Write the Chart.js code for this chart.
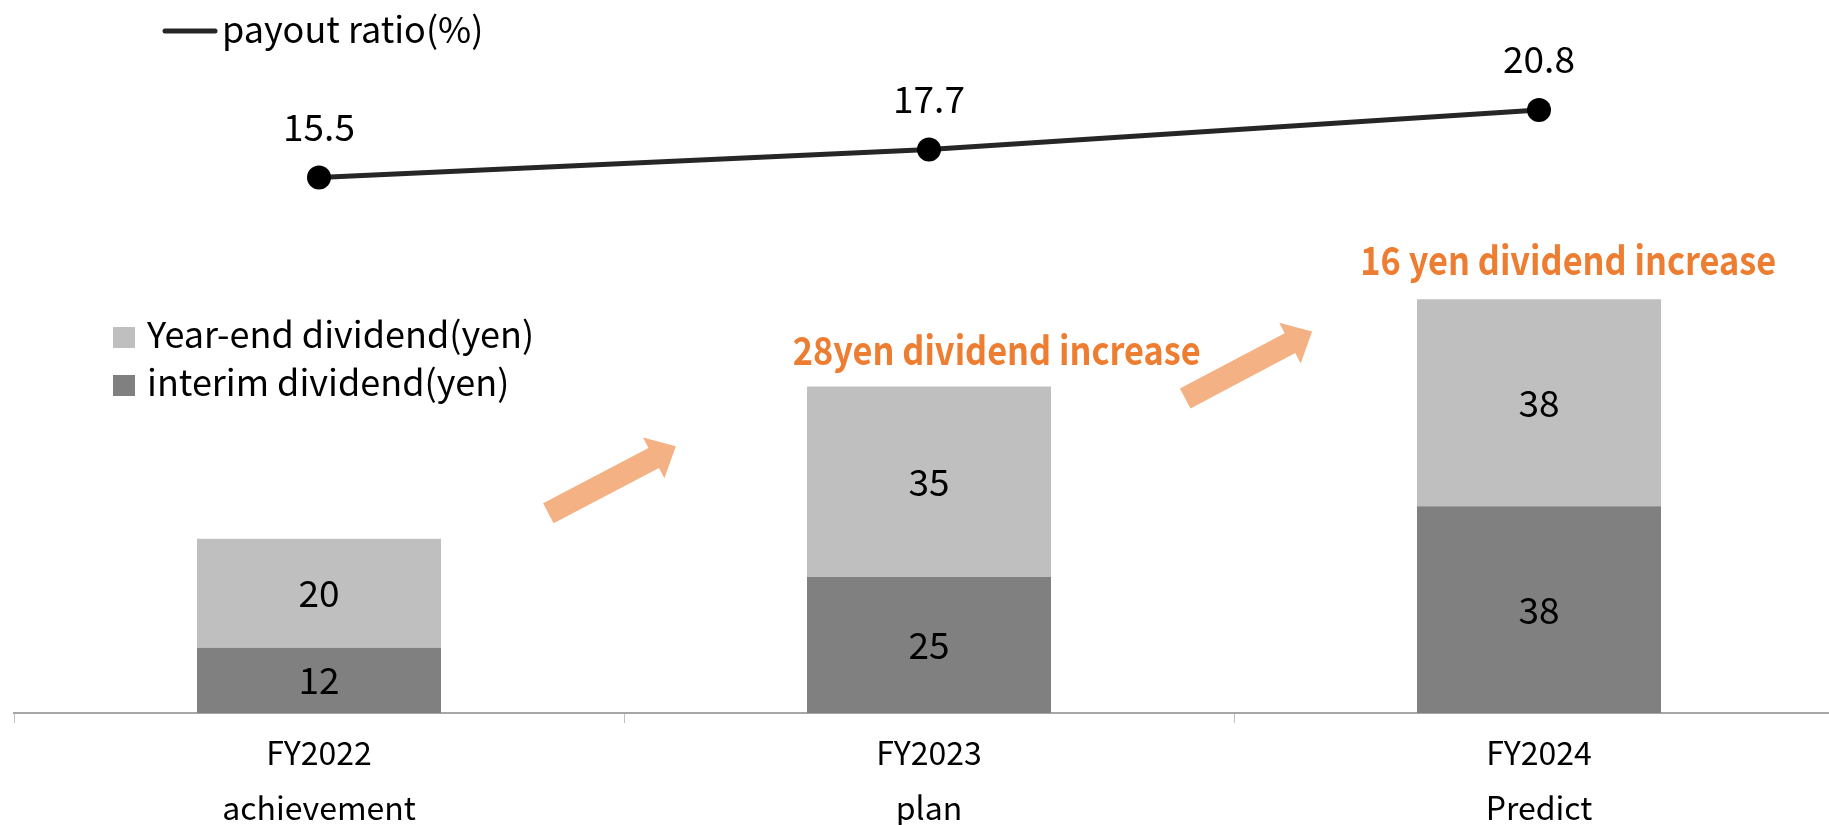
<!DOCTYPE html>
<html>
<head>
<meta charset="utf-8">
<script src="https://cdn.jsdelivr.net/npm/chart.js@4.4.1/dist/chart.umd.min.js"></script>
<style>
  html, body { margin: 0; padding: 0; background: #fff; overflow: hidden; }
  #wrap { width: 1850px; height: 825px; }
</style>
</head>
<body>
<div id="wrap"><canvas id="c" width="1850" height="825"></canvas></div>
<script>
// ---- data ----
const categories = [['FY2022', 'achievement'], ['FY2023', 'plan'], ['FY2024', 'Predict']];
const interimDividend = [12, 25, 38];
const yearEndDividend = [20, 35, 38];
const payoutRatio = [15.5, 17.7, 20.8];
const seriesNames = ['interim dividend(yen)', 'Year-end dividend(yen)', 'payout ratio(%)'];
const increaseNotes = ['28yen dividend increase', '16 yen dividend increase'];

// ---- look ----
const FONT = "'Noto Sans CJK JP', 'Noto Sans', sans-serif";
const COL_INTERIM = '#808080';
const COL_YEAREND = '#BFBFBF';
const COL_LINE = '#262626';
const COL_NOTE = '#ED7D31';
const COL_ARROW = '#F4B183';

// annotation anchors in (category index, dividend value) space
const notePlaces = [[1.111, 64], [2.048, 80.4]];
const arrowPlaces = [
  { from: [0.376, 36.7], to: [0.585, 49.0] },
  { from: [1.420, 57.8], to: [1.628, 70.1] }
];

function drawArrow(ctx, x0, y0, x1, y1) {
  const dx = x1 - x0, dy = y1 - y0;
  const len = Math.hypot(dx, dy);
  const ux = dx / len, uy = dy / len;
  const nx = -uy, ny = ux;
  const hw = 11.3, HW = 23, HL = 25;
  const bx = x1 - ux * HL, by = y1 - uy * HL;
  ctx.beginPath();
  ctx.moveTo(x0 + nx * hw, y0 + ny * hw);
  ctx.lineTo(bx + nx * hw, by + ny * hw);
  ctx.lineTo(bx + nx * HW, by + ny * HW);
  ctx.lineTo(x1, y1);
  ctx.lineTo(bx - nx * HW, by - ny * HW);
  ctx.lineTo(bx - nx * hw, by - ny * hw);
  ctx.lineTo(x0 - nx * hw, y0 - ny * hw);
  ctx.closePath();
  ctx.fill();
}

// narrow text drawn at (cx, cy) with a horizontal squeeze
function condensedText(ctx, text, cx, cy, squeeze) {
  ctx.save();
  ctx.translate(cx, cy);
  ctx.scale(squeeze, 1);
  ctx.fillText(text, 0, 0);
  ctx.restore();
}

const decor = {
  id: 'decor',
  afterDatasetsDraw(chart) {
    const { ctx } = chart;
    const x = chart.scales.x, y = chart.scales.y;
    ctx.save();

    // value labels
    ctx.fillStyle = '#000';
    ctx.textAlign = 'center';
    ctx.textBaseline = 'middle';
    ctx.font = `37px ${FONT}`;
    chart.data.datasets.forEach((ds, i) => {
      const meta = chart.getDatasetMeta(i);
      meta.data.forEach((el, j) => {
        const v = ds.data[j];
        if (ds.type === 'line') {
          ctx.fillText(v.toFixed(1), el.x, el.y - 51);
        } else {
          ctx.fillText(String(v), el.x, (el.y + el.base) / 2);
        }
      });
    });

    // increase arrows
    ctx.fillStyle = COL_ARROW;
    arrowPlaces.forEach(a => {
      drawArrow(ctx,
        x.getPixelForValue(a.from[0]), y.getPixelForValue(a.from[1]),
        x.getPixelForValue(a.to[0]), y.getPixelForValue(a.to[1]));
    });

    // increase notes
    ctx.fillStyle = COL_NOTE;
    ctx.font = `bold 39px ${FONT}`;
    ctx.textAlign = 'center';
    ctx.textBaseline = 'alphabetic';
    increaseNotes.forEach((t, k) => {
      const p = notePlaces[k];
      condensedText(ctx, t, x.getPixelForValue(p[0]), y.getPixelForValue(p[1]), 0.88);
    });

    // legends
    ctx.textAlign = 'left';
    ctx.fillStyle = '#000';
    ctx.font = `36px ${FONT}`;
    // line series entry
    ctx.strokeStyle = COL_LINE;
    ctx.lineWidth = 5;
    ctx.lineCap = 'round';
    ctx.beginPath();
    ctx.moveTo(165, 31);
    ctx.lineTo(215, 31);
    ctx.stroke();
    ctx.fillText(seriesNames[2], 222, 43);
    // bar series entries (top segment first)
    const entries = [[seriesNames[1], COL_YEAREND], [seriesNames[0], COL_INTERIM]];
    entries.forEach((e, k) => {
      const top = 327 + k * 48;
      ctx.fillStyle = e[1];
      ctx.fillRect(113, top, 22, 21);
      ctx.fillStyle = '#000';
      ctx.fillText(e[0], 147, top + 21);
    });

    ctx.restore();
  }
};

new Chart(document.getElementById('c'), {
  type: 'bar',
  data: {
    labels: categories,
    datasets: [
      {
        type: 'bar', label: seriesNames[0], data: interimDividend,
        backgroundColor: COL_INTERIM, borderWidth: 0,
        categoryPercentage: 1, barPercentage: 0.4, yAxisID: 'y', order: 2
      },
      {
        type: 'bar', label: seriesNames[1], data: yearEndDividend,
        backgroundColor: COL_YEAREND, borderWidth: 0,
        categoryPercentage: 1, barPercentage: 0.4, yAxisID: 'y', order: 2
      },
      {
        type: 'line', label: seriesNames[2], data: payoutRatio,
        borderColor: COL_LINE, borderWidth: 5, tension: 0,
        pointRadius: 12, pointBackgroundColor: '#000', pointBorderWidth: 0,
        yAxisID: 'y2', order: 1
      }
    ]
  },
  options: {
    responsive: false,
    animation: false,
    devicePixelRatio: 1,
    events: [],
    layout: { autoPadding: false, padding: { left: 14, right: 6, top: 0, bottom: 0 } },
    plugins: { legend: { display: false }, tooltip: { enabled: false } },
    scales: {
      x: {
        stacked: true,
        offset: true,
        grid: { display: true, drawOnChartArea: false, drawTicks: true, tickLength: 10, color: '#BFBFBF', lineWidth: 1, offset: true },
        border: { display: true, color: '#A6A6A6', width: 2 },
        ticks: { color: '#000', font: { family: FONT, size: 32, lineHeight: 1.7 }, padding: 3, maxRotation: 0, autoSkip: false },
        afterFit(scale) { scale.height = 112; }
      },
      y: { display: false, stacked: true, min: 0, max: 131 },
      y2: { display: false, min: -26.6, max: 29.45 }
    }
  },
  plugins: [decor]
});
</script>
</body>
</html>
